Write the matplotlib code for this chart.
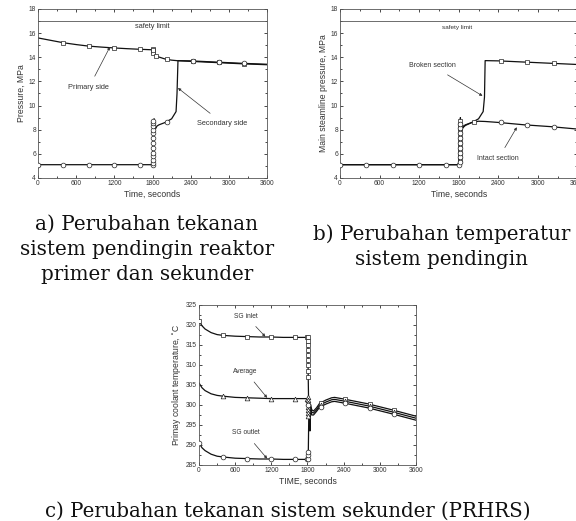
# %%
import matplotlib
matplotlib.use("Agg")
import matplotlib.pyplot as plt
from matplotlib.ticker import MultipleLocator

plt.rcParams['font.family'] = ['Liberation Sans', 'DejaVu Sans']
TXT = '#333333'

# %%
# a) primary / secondary pressure
a_prim_t = [0, 200, 400, 600, 800, 1000, 1200, 1400, 1600, 1790, 1800, 1805, 1810, 1815, 1820, 1830, 1850, 1900, 2000, 2100, 2200, 2400, 2800, 3200, 3600]
a_prim_p = [15.6, 15.4, 15.2, 15.05, 14.92, 14.84, 14.77, 14.71, 14.66, 14.62, 14.72, 14.4, 14.68, 14.3, 14.55, 14.2, 14.12, 14.02, 13.85, 13.76, 13.71, 13.66, 13.56, 13.46, 13.38]
a_prim_mt = [400, 800, 1200, 1600, 1805, 1808, 1812, 1815, 1850, 2030, 2440, 2840, 3240]
a_prim_mp = [15.2, 14.92, 14.78, 14.67, 14.65, 14.5, 14.35, 14.6, 14.12, 13.82, 13.67, 13.57, 13.47]

a_sec_t = [0, 400, 800, 1200, 1600, 1790, 1800, 1805, 1810, 1815, 1820, 1825, 1830, 1850, 1870, 1900, 2000, 2100, 2170, 2185, 2200, 2400, 2800, 3200, 3600]
a_sec_p = [5.1, 5.1, 5.1, 5.1, 5.1, 5.1, 5.3, 6.0, 7.0, 7.8, 8.5, 8.9, 8.3, 8.1, 8.3, 8.4, 8.6, 8.9, 9.5, 11.0, 13.72, 13.7, 13.6, 13.5, 13.42]
a_sec_mt = [0, 400, 800, 1200, 1600, 1800] + [1815] * 12 + [2030, 2440, 2840, 3240]
a_sec_mp = [5.1] * 6 + [5.2, 5.5, 5.8, 6.1, 6.5, 6.9, 7.3, 7.7, 8.0, 8.3, 8.55, 8.75] + [8.65, 13.7, 13.6, 13.5]

# %%
# b) main steamline pressure
b_brk_t = [0, 400, 800, 1200, 1600, 1790, 1800, 1810, 1820, 1825, 1835, 1850, 1870, 1900, 2000, 2100, 2170, 2190, 2200, 2400, 2800, 3200, 3600]
b_brk_p = [5.1, 5.1, 5.1, 5.1, 5.1, 5.1, 5.3, 7.0, 8.5, 9.0, 7.8, 8.0, 8.3, 8.4, 8.6, 8.9, 9.5, 10.7, 13.72, 13.7, 13.6, 13.5, 13.4]
b_brk_mt = [1820] * 10 + [2030, 2440, 2840, 3240]
b_brk_mp = [5.4, 5.8, 6.2, 6.6, 7.0, 7.4, 7.8, 8.1, 8.4, 8.7] + [8.6, 13.7, 13.6, 13.5]

b_int_t = [0, 400, 800, 1200, 1600, 1790, 1800, 1810, 1820, 1825, 1835, 1850, 1900, 2000, 2100, 2200, 2400, 2800, 3200, 3600]
b_int_p = [5.1, 5.1, 5.1, 5.1, 5.1, 5.1, 5.3, 7.0, 8.5, 8.8, 7.9, 8.1, 8.35, 8.6, 8.7, 8.68, 8.6, 8.4, 8.25, 8.05]
b_int_mt = [0, 400, 800, 1200, 1600, 1800] + [1812] * 9 + [2440, 2840, 3240]
b_int_mp = [5.1] * 6 + [5.3, 5.7, 6.1, 6.5, 6.9, 7.3, 7.7, 8.1, 8.5] + [8.6, 8.4, 8.25]

# %%
# c) primary coolant temperature
c_t = [0, 50, 100, 200, 300, 400, 600, 800, 1000, 1200, 1400, 1600, 1805, 1812, 1820, 1830, 1840, 1850, 1870, 1900, 1950, 2000, 2100, 2200, 2250, 2400, 2800, 3200, 3600]
c_in = [321.0, 319.8, 319.0, 318.1, 317.6, 317.4, 317.2, 317.1, 317.0, 317.0, 316.9, 316.9, 316.9, 307.0, 299.0, 301.5, 297.0, 300.2, 298.8, 298.5, 299.3, 300.4, 301.2, 301.8, 301.9, 301.5, 300.3, 298.8, 297.2]
c_avg = [305.5, 304.3, 303.6, 302.8, 302.4, 302.2, 301.9, 301.8, 301.7, 301.6, 301.6, 301.6, 301.6, 302.0, 299.0, 300.5, 293.5, 299.5, 298.2, 298.0, 298.8, 299.9, 300.7, 301.3, 301.4, 301.0, 299.8, 298.3, 296.7]
c_out = [290.5, 289.3, 288.6, 287.7, 287.2, 287.0, 286.7, 286.6, 286.5, 286.5, 286.4, 286.4, 286.4, 286.6, 296.0, 300.5, 294.0, 299.2, 297.5, 297.5, 298.4, 299.4, 300.2, 300.8, 300.9, 300.5, 299.3, 297.8, 296.2]

c_in_mt = [0, 400, 800, 1200, 1600, 1800] + [1810] * 9 + [2030, 2430, 2830, 3230]
c_in_m = [321.0, 317.4, 317.1, 317.0, 316.9, 316.9] + [317.0, 316.0, 315.0, 313.8, 312.5, 311.2, 309.9, 308.5, 307.0] + [300.5, 301.4, 300.3, 298.7]
c_avg_mt = [400, 800, 1200, 1600, 1800] + [1815] * 7 + [2030, 2430, 2830, 3230]
c_avg_m = [302.2, 301.8, 301.6, 301.6, 301.6] + [302.0, 301.2, 300.4, 299.6, 298.8, 298.0, 297.3] + [300.0, 300.9, 299.8, 298.2]
c_out_mt = [0, 400, 800, 1200, 1600, 1800] + [1812] * 4 + [2030, 2430, 2830, 3230]
c_out_m = [290.5, 287.0, 286.6, 286.5, 286.4, 286.4] + [286.6, 287.4, 288.2, 300.0] + [299.5, 300.4, 299.3, 297.7]

# captions
cap_a = ['a) Perubahan tekanan', 'sistem pendingin reaktor', 'primer dan sekunder']
cap_b = ['b) Perubahan temperatur', 'sistem pendingin']
cap_c = 'c) Perubahan tekanan sistem sekunder (PRHRS)'

# %%
fig = plt.figure(figsize=(5.76, 5.21), dpi=100)

def style(ax, ylo, yhi, ystep, xlab, ylab):
    ax.set_xlim(0, 3600)
    ax.set_ylim(ylo, yhi)
    ax.xaxis.set_major_locator(MultipleLocator(600))
    ax.xaxis.set_minor_locator(MultipleLocator(300))
    ax.yaxis.set_major_locator(MultipleLocator(ystep))
    ax.yaxis.set_minor_locator(MultipleLocator(ystep / 2))
    ax.tick_params(which='both', direction='in', top=True, right=True, labelsize=4.8,
                   labelcolor=TXT, width=0.5, pad=1.5)
    ax.tick_params(which='major', length=2.5)
    ax.tick_params(which='minor', length=1.3)
    ax.set_xlabel(xlab, fontsize=6.2, color=TXT, labelpad=2)
    ax.set_ylabel(ylab, fontsize=6.2, color=TXT, labelpad=2)
    for s in ax.spines.values():
        s.set_linewidth(0.6)
        s.set_color('#555555')

def curve(ax, t, v, mt, mv, marker):
    ax.plot(t, v, color='#111111', lw=0.9, zorder=2)
    ax.plot(mt, mv, ls='none', marker=marker, ms=3.4, mfc='white', mec='#222222', mew=0.5, zorder=3)

def note(ax, text, xy, xytext, fs=5.3):
    ax.annotate(text, xy=xy, xytext=xytext, fontsize=fs, color=TXT, ha='center', va='center',
                arrowprops=dict(arrowstyle='-|>', color='#333333', lw=0.5, mutation_scale=4,
                                shrinkA=4, shrinkB=0))

# a
ax = fig.add_axes([0.066, 0.6584, 0.3976, 0.3244])
style(ax, 4, 18, 2, 'Time, seconds', 'Pressure, MPa')
ax.axhline(17, color='#555555', lw=0.6)
ax.text(1800, 16.55, 'safety limit', fontsize=5.3, color=TXT, ha='center', va='center')
curve(ax, a_prim_t, a_prim_p, a_prim_mt, a_prim_mp, 's')
curve(ax, a_sec_t, a_sec_p, a_sec_mt, a_sec_mp, 'o')
note(ax, 'Primary side', (1130, 14.85), (800, 11.5))
note(ax, 'Secondary side', (2200, 11.45), (2900, 8.55))

# b
ax = fig.add_axes([0.5903, 0.6584, 0.4123, 0.3244])
style(ax, 4, 18, 2, 'Time, seconds', 'Main steamline pressure, MPa')
ax.axhline(17, color='#555555', lw=0.6)
ax.text(1780, 16.5, 'safety limit', fontsize=4.6, color=TXT, ha='center', va='center')
curve(ax, b_brk_t, b_brk_p, b_brk_mt, b_brk_mp, 's')
curve(ax, b_int_t, b_int_p, b_int_mt, b_int_mp, 'o')
note(ax, 'Broken section', (2160, 10.8), (1400, 13.3), fs=5.0)
note(ax, 'Intact section', (2680, 8.2), (2400, 5.6), fs=5.0)

# c
ax = fig.add_axes([0.3455, 0.1075, 0.3767, 0.3071])
style(ax, 285, 325, 5, 'TIME, seconds', 'Primay coolant temperature, $^{\\circ}$C')
curve(ax, c_t, c_in, c_in_mt, c_in_m, 's')
curve(ax, c_t, c_avg, c_avg_mt, c_avg_m, '^')
curve(ax, c_t, c_out, c_out_mt, c_out_m, 'o')
note(ax, 'SG inlet', (1100, 317.1), (780, 322.2), fs=4.8)
note(ax, 'Average', (1130, 301.8), (770, 308.4), fs=4.8)
note(ax, 'SG outlet', (1130, 286.6), (770, 293.0), fs=4.8)

# captions, one baseline per line
cap = dict(family='DejaVu Serif', fontsize=14.3, color='#111111', ha='center', va='baseline')
for i, line in enumerate(cap_a):
    fig.text(0.255, 0.5585 - i * 0.048, line, **cap)
for i, line in enumerate(cap_b):
    fig.text(0.766, 0.5393 - i * 0.048, line, **cap)
fig.text(0.5, 0.008, cap_c, **dict(cap, fontsize=14.2))

fig.savefig('out.png', dpi=100)
